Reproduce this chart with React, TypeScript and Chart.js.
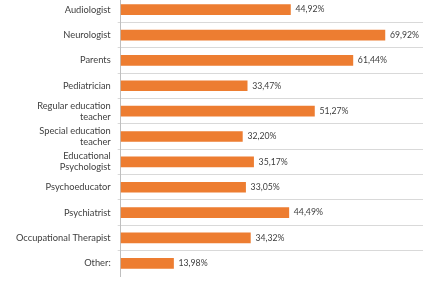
import React, { useEffect, useRef } from "react";
import { Chart, registerables } from "chart.js";

Chart.register(...registerables);

const categories: (string | string[])[] = [
  "Audiologist",
  "Neurologist",
  "Parents",
  "Pediatrician",
  ["Regular education", "teacher"],
  ["Special education", "teacher"],
  ["Educational", "Psychologist"],
  "Psychoeducator",
  "Psychiatrist",
  "Occupational Therapist",
  "Other:",
];

const percentages: number[] = [44.92, 69.92, 61.44, 33.47, 51.27, 32.2, 35.17, 33.05, 44.49, 34.32, 13.98];

const FONT_FAMILY = "Lato, 'Open Sans', sans-serif";
const BAR_COLOR = "#ED7D31";
const TEXT_COLOR = "#404040";
const GRID_COLOR = "#d9d9d9";

const formatPct = (v: number) => v.toFixed(2).replace(".", ",") + "%";

// Draws the value text just past the end of each bar.
const valueLabels = {
  id: "valueLabels",
  afterDatasetsDraw(chart: Chart) {
    const ctx = chart.ctx;
    const meta = chart.getDatasetMeta(0);
    const data = chart.data.datasets[0].data as number[];
    ctx.save();
    ctx.font = `8.7px ${FONT_FAMILY}`;
    ctx.fillStyle = TEXT_COLOR;
    ctx.textAlign = "left";
    ctx.textBaseline = "middle";
    meta.data.forEach((bar: any, i: number) => {
      ctx.fillText(formatPct(data[i]), bar.x + 5, bar.y);
    });
    ctx.restore();
  },
};

export default function App() {
  const canvasRef = useRef<HTMLCanvasElement | null>(null);

  useEffect(() => {
    if (!canvasRef.current) return;
    const chart = new Chart(canvasRef.current, {
      type: "bar",
      data: {
        labels: categories,
        datasets: [
          {
            data: percentages,
            backgroundColor: BAR_COLOR,
            borderWidth: 0,
            barThickness: 10,
          },
        ],
      },
      options: {
        indexAxis: "y",
        animation: false,
        responsive: false,
        maintainAspectRatio: false,
        layout: { padding: { top: 0, right: 2, bottom: 8, left: 0 } },
        plugins: {
          legend: { display: false },
          tooltip: { enabled: false },
        },
        scales: {
          x: {
            display: false,
            min: 0,
            max: 80,
          },
          y: {
            afterFit: (axis: any) => {
              axis.width = 120.7;
              axis.paddingTop = 0;
              axis.paddingBottom = 0;
            },
            grid: {
              offset: true,
              // separator lines between categories only; no line along the bottom edge
              color: (ctx: any) => (ctx.type === "tick" ? GRID_COLOR : "rgba(0,0,0,0)"),
              tickLength: 3,
              drawOnChartArea: true,
            },
            border: { color: "#bfbfbf", width: 1 },
            ticks: {
              autoSkip: false,
              padding: 7,
              color: TEXT_COLOR,
              font: { family: FONT_FAMILY, size: 9.3, lineHeight: 1.2 },
            },
          },
        },
      },
      plugins: [valueLabels],
    });
    return () => chart.destroy();
  }, []);

  return (
    <div style={{ position: "absolute", left: 0, top: -3, width: 425, height: 287 }}>
      <canvas ref={canvasRef} width={425} height={287} style={{ display: "block" }} />
    </div>
  );
}
